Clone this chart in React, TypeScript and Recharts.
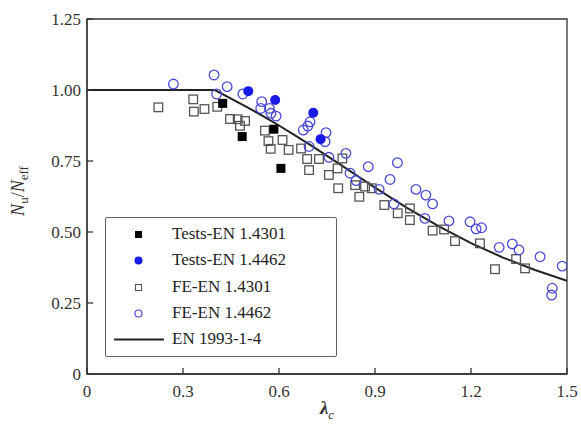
import React from "react";
import {
  ScatterChart,
  Scatter,
  XAxis,
  YAxis,
  ReferenceArea,
  Legend,
} from "recharts";

// [lambda_c, Nu/Neff]
const testsEN4301 = [
  [0.424, 0.953], [0.485, 0.836], [0.584, 0.862], [0.606, 0.724],
];
const testsEN4462 = [
  [0.504, 0.996], [0.588, 0.965], [0.707, 0.92], [0.73, 0.827],
];
const feEN4301 = [
  [0.223, 0.939], [0.332, 0.967], [0.334, 0.924], [0.367, 0.933], [0.407, 0.941],
  [0.447, 0.898], [0.471, 0.897], [0.494, 0.891], [0.478, 0.874], [0.556, 0.857],
  [0.567, 0.82], [0.574, 0.793], [0.611, 0.824], [0.63, 0.789], [0.669, 0.794],
  [0.688, 0.757], [0.694, 0.718], [0.725, 0.757], [0.756, 0.701], [0.783, 0.724],
  [0.785, 0.654], [0.798, 0.759], [0.838, 0.665], [0.851, 0.624], [0.869, 0.66],
  [0.89, 0.654], [0.929, 0.595], [0.971, 0.566], [1.009, 0.583], [1.009, 0.542],
  [1.08, 0.505], [1.116, 0.509], [1.15, 0.468], [1.228, 0.46], [1.275, 0.369],
  [1.341, 0.405], [1.369, 0.372],
];
const feEN4462 = [
  [0.27, 1.021], [0.397, 1.053], [0.438, 1.012], [0.405, 0.986], [0.487, 0.986],
  [0.546, 0.959], [0.543, 0.935], [0.57, 0.935], [0.575, 0.918], [0.591, 0.908],
  [0.697, 0.888], [0.69, 0.873], [0.676, 0.859], [0.747, 0.85], [0.744, 0.818],
  [0.694, 0.801], [0.756, 0.763], [0.809, 0.777], [0.822, 0.707], [0.841, 0.681],
  [0.879, 0.73], [0.913, 0.65], [0.947, 0.685], [0.97, 0.744], [0.959, 0.599],
  [1.028, 0.65], [1.059, 0.63], [1.056, 0.548], [1.08, 0.599], [1.131, 0.539],
  [1.197, 0.536], [1.216, 0.511], [1.233, 0.515], [1.288, 0.446], [1.329, 0.458],
  [1.35, 0.437], [1.416, 0.413], [1.485, 0.38], [1.454, 0.302], [1.452, 0.278],
];
// EN 1993-1-4 design curve
const curveX = [0, 0.4, 0.45, 0.5, 0.55, 0.6, 0.65, 0.7, 0.75, 0.8, 0.9, 1.0, 1.1, 1.2, 1.3, 1.4, 1.5];
const curveY = [1, 1, 0.97, 0.94, 0.908, 0.875, 0.84, 0.805, 0.768, 0.731, 0.656, 0.585, 0.52, 0.461, 0.41, 0.366, 0.328];

const xTicks = [0, 0.3, 0.6, 0.9, 1.2, 1.5];
const yTicks = [0, 0.25, 0.5, 0.75, 1.0, 1.25];

const FONT = "'Liberation Serif', 'DejaVu Serif', serif";
const AXIS = "#333";
const BLUE = "#1a1ae6";
const OPEN_BLUE = "#4a4ad8";
const GRAY = "#555";

const toPoints = (arr: number[][]) => arr.map(([x, y]) => ({ x, y }));
const curve = curveX.map((x, i) => ({ x, y: curveY[i] }));

const BlackSquare = (p: any) => (
  <rect x={p.cx - 4.5} y={p.cy - 4.5} width={9} height={9} fill="#000" />
);
const BlueDot = (p: any) => <circle cx={p.cx} cy={p.cy} r={5} fill={BLUE} />;
const OpenSquare = (p: any) => (
  <rect x={p.cx - 4.3} y={p.cy - 4.3} width={8.6} height={8.6} fill="none" stroke={GRAY} strokeWidth={1.3} />
);
const OpenCircle = (p: any) => (
  <circle cx={p.cx} cy={p.cy} r={4.8} fill="none" stroke={OPEN_BLUE} strokeWidth={1.3} />
);
const NoDot = () => <g />;

function XTick({ x, y, payload }: any) {
  const v = payload.value;
  return (
    <g>
      <line x1={x} y1={y} x2={x} y2={y - 6} stroke={AXIS} strokeWidth={1.3} />
      <text x={x} y={y + 23} textAnchor="middle" fontFamily={FONT} fontSize={17} fill="#333">
        {v === 0 ? "0" : v.toFixed(1)}
      </text>
    </g>
  );
}

function YTick({ x, y, payload }: any) {
  const v = payload.value;
  return (
    <g>
      <line x1={x} y1={y} x2={x + 6} y2={y} stroke={AXIS} strokeWidth={1.3} />
      <text x={x - 6} y={y + 6} textAnchor="end" fontFamily={FONT} fontSize={17} fill="#333">
        {v === 0 ? "0" : v.toFixed(2)}
      </text>
    </g>
  );
}

const legendRows = [
  { label: "Tests-EN 1.4301", icon: <rect x={29} y={-3} width={7} height={7} fill="#000" /> },
  { label: "Tests-EN 1.4462", icon: <circle cx={32.5} cy={0.5} r={4} fill={BLUE} /> },
  { label: "FE-EN 1.4301", icon: <rect x={29.5} y={-2.5} width={6} height={6} fill="none" stroke={GRAY} strokeWidth={1.1} /> },
  { label: "FE-EN 1.4462", icon: <circle cx={32.5} cy={0.5} r={3.5} fill="none" stroke={OPEN_BLUE} strokeWidth={1.2} /> },
  { label: "EN 1993-1-4", icon: <line x1={8} y1={0.5} x2={58} y2={0.5} stroke="#222" strokeWidth={2} /> },
];

function LegendBox() {
  return (
    <div
      style={{
        width: 232,
        height: 140,
        boxSizing: "border-box",
        border: "1.3px solid #666",
        borderRadius: 2,
        background: "#fff",
        position: "relative",
        fontFamily: FONT,
        fontSize: 17,
        color: "#222",
      }}
    >
      {legendRows.map((r, i) => (
        <div key={r.label} style={{ position: "absolute", left: 0, top: 16 + i * 26.3 - 10, height: 20, display: "flex", alignItems: "center" }}>
          <svg width={66} height={20} viewBox="0 -10 66 20" style={{ display: "block" }}>
            {r.icon}
          </svg>
          <span style={{ lineHeight: "20px", whiteSpace: "nowrap" }}>{r.label}</span>
        </div>
      ))}
    </div>
  );
}

export default function App() {
  return (
    <div style={{ position: "absolute", left: 0, top: 0, width: 581, height: 427, background: "#fff" }}>
      <ScatterChart width={581} height={427} margin={{ top: 19, right: 14, bottom: 23, left: 0 }}>
        <XAxis
          type="number"
          dataKey="x"
          domain={[0, 1.5]}
          ticks={xTicks}
          interval={0}
          tick={<XTick />}
          tickLine={false}
          tickSize={0}
          tickMargin={0}
          height={30}
          axisLine={{ stroke: AXIS, strokeWidth: 1.3 }}
          allowDataOverflow
        />
        <YAxis
          type="number"
          dataKey="y"
          domain={[0, 1.25]}
          ticks={yTicks}
          interval={0}
          tick={<YTick />}
          tickLine={false}
          tickSize={0}
          tickMargin={0}
          width={87}
          axisLine={{ stroke: AXIS, strokeWidth: 1.3 }}
          allowDataOverflow
        />
        <ReferenceArea x1={0} x2={1.5} y1={0} y2={1.25} fill="none" stroke={AXIS} strokeWidth={1.3} />
        <Scatter
          name="EN 1993-1-4"
          data={curve}
          line={{ stroke: "#222", strokeWidth: 2 }}
          shape={<NoDot />}
          isAnimationActive={false}
        />
        <Scatter name="FE-EN 1.4301" data={toPoints(feEN4301)} shape={<OpenSquare />} isAnimationActive={false} />
        <Scatter name="FE-EN 1.4462" data={toPoints(feEN4462)} shape={<OpenCircle />} isAnimationActive={false} />
        <Scatter name="Tests-EN 1.4301" data={toPoints(testsEN4301)} shape={<BlackSquare />} isAnimationActive={false} />
        <Scatter name="Tests-EN 1.4462" data={toPoints(testsEN4462)} shape={<BlueDot />} isAnimationActive={false} />
        <Legend
          layout="horizontal"
          verticalAlign="middle"
          align="center"
          content={<LegendBox />}
          wrapperStyle={{ left: 105, top: 217, width: 232, height: 140 }}
        />
        <text x={24} y={191} transform="rotate(-90 24 191)" textAnchor="middle" fontFamily={FONT} fontSize={18} fill="#333">
          <tspan fontStyle="italic">N</tspan>
          <tspan fontSize={13} dy={4}>u</tspan>
          <tspan dy={-4}>/</tspan>
          <tspan fontStyle="italic">N</tspan>
          <tspan fontSize={13} dy={4}>eff</tspan>
        </text>
        <text x={327} y={414} textAnchor="middle" fontFamily={FONT} fontSize={19} fill="#333">
          <tspan fontStyle="italic" fontWeight="bold">λ</tspan>
          <tspan fontSize={13} dy={5} fontStyle="italic">c</tspan>
        </text>
      </ScatterChart>
    </div>
  );
}
